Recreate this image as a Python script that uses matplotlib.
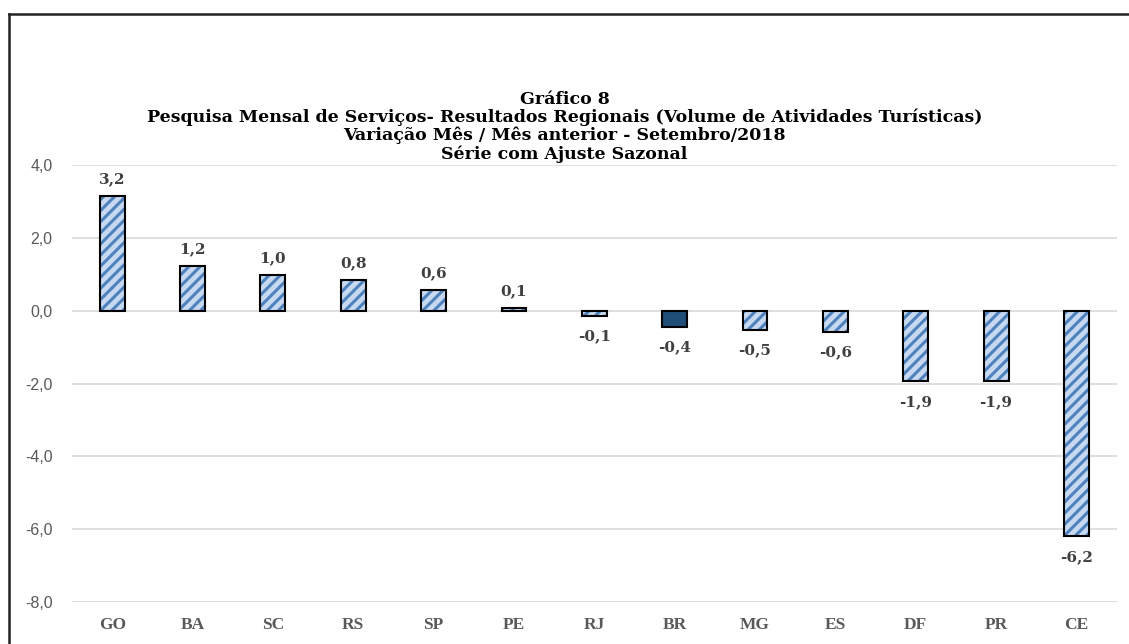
import matplotlib
matplotlib.use("Agg")
import matplotlib.pyplot as plt
from matplotlib.lines import Line2D

# ── Dados (Gráfico 8) ────────────────────────────────────────────────────────
ufs = ["GO", "BA", "SC", "RS", "SP", "PE", "RJ", "BR", "MG", "ES", "DF", "PR", "CE"]
variacao = [3.16, 1.24, 0.99, 0.84, 0.58, 0.08, -0.14, -0.44, -0.52, -0.58, -1.94, -1.94, -6.2]
yticks = [-8, -6, -4, -2, 0, 2, 4]

titulo = ("Gráfico 8\n"
          "Pesquisa Mensal de Serviços- Resultados Regionais (Volume de Atividades Turísticas)\n"
          "Variação Mês / Mês anterior - Setembro/2018\n"
          "Série com Ajuste Sazonal")

# ── Estilo ───────────────────────────────────────────────────────────────────
plt.rcParams['hatch.linewidth'] = 2.2
serif = ['Liberation Serif', 'DejaVu Serif']
serif_largo = ['DejaVu Serif']
sans = ['Liberation Sans', 'DejaVu Sans']
cor_claro = '#C6D9F0'
cor_hachura = '#4F81BD'
cor_br = '#1F4E79'

fig = plt.figure(figsize=(11.29, 6.44), dpi=100, facecolor='white')
ax = fig.add_axes([0.0638, 0.0652, 0.9252, 0.6786])

x = range(len(ufs))
largura = 0.31
for i, (uf, v) in enumerate(zip(ufs, variacao)):
    if uf == "BR":
        ax.bar(i, v, width=largura, color=cor_br, edgecolor='black', linewidth=1.5, zorder=3)
    else:
        ax.bar(i, v, width=largura, color=cor_claro, edgecolor=cor_hachura,
               hatch='///', linewidth=0, zorder=3)
        ax.bar(i, v, width=largura, fill=False, edgecolor='black', linewidth=1.5, zorder=4)
    rot = f"{v:.1f}".replace('.', ',')
    if v >= 0:
        ax.annotate(rot, (i, v), xytext=(0, 7), textcoords='offset points',
                    ha='center', va='bottom', fontsize=11, fontweight='bold',
                    family=serif_largo, color='#404040')
    else:
        ax.annotate(rot, (i, v), xytext=(0, -10), textcoords='offset points',
                    ha='center', va='top', fontsize=11, fontweight='bold',
                    family=serif_largo, color='#404040')

ax.set_xlim(-0.5, len(ufs) - 0.5)
ax.set_ylim(-8, 4)
ax.set_yticks(yticks)
ax.set_yticklabels([f"{t:.1f}".replace('.', ',') for t in yticks],
                   family=sans, fontsize=11.5, color='#595959')
ax.set_xticks(list(x))
ax.set_xticklabels(ufs, family=serif, fontsize=12.5, fontweight='bold', color='#595959')
ax.tick_params(axis='both', length=0)
ax.tick_params(axis='x', pad=11)
ax.tick_params(axis='y', pad=14)
ax.grid(axis='y', color='#D9D9D9', linewidth=1.2, zorder=0)
ax.set_axisbelow(True)
for lado in ax.spines.values():
    lado.set_visible(False)

fig.text(0.5, 0.803, titulo, ha='center', va='center', fontsize=12.5,
         fontweight='bold', family=serif_largo, color='black', linespacing=1.05)

# moldura (apenas lados visíveis)
fig.add_artist(Line2D([0.0078, 0.0078], [0.0, 0.979], transform=fig.transFigure,
                      color='#222222', linewidth=1.8))
fig.add_artist(Line2D([0.0078, 1.0], [0.979, 0.979], transform=fig.transFigure,
                      color='#222222', linewidth=1.8))

fig.savefig('out.png', dpi=100, facecolor='white')
plt.close(fig)
